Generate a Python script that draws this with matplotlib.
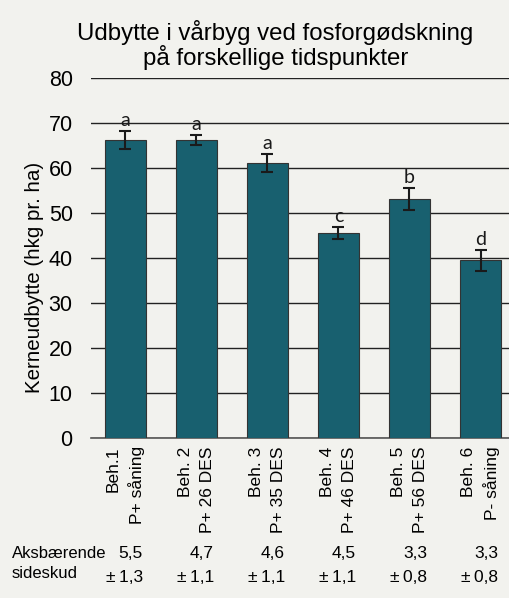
import numpy as np
import matplotlib.pyplot as plt

plt.rcParams['font.family'] = ['Liberation Sans', 'DejaVu Sans']

labels = ['Beh.1\nP+ såning', 'Beh. 2\nP+ 26 DES', 'Beh. 3\nP+ 35 DES',
          'Beh. 4\nP+ 46 DES', 'Beh. 5\nP+ 56 DES', 'Beh. 6\nP- såning']
yield_vals = [66.2, 66.2, 61.0, 45.5, 53.1, 39.5]
yield_err = [2.0, 1.1, 2.0, 1.3, 2.4, 2.3]
letters = ['a', 'a', 'a', 'c', 'b', 'd']
shoots = ['5,5', '4,7', '4,6', '4,5', '3,3', '3,3']
shoots_sd = ['±\u20091,3', '±\u20091,1', '±\u20091,1', '±\u20091,1', '±\u20090,8', '±\u20090,8']

bg = '#f2f2ee'
fig = plt.figure(figsize=(5.1, 5.98), dpi=100, facecolor=bg)
ax = fig.add_axes([0.178, 0.2676, 0.822, 0.602])
ax.set_facecolor(bg)

ind = np.arange(len(labels))
width = 0.57
ax.bar(ind, yield_vals, width, color='#18606f', edgecolor='#333333', linewidth=0.8, zorder=3)
ax.errorbar(ind, yield_vals, yerr=yield_err, fmt='none', ecolor='#1a1a1a',
            elinewidth=1.5, capsize=4, capthick=1.5, zorder=4)
for i in ind:
    ax.text(i, yield_vals[i] + yield_err[i] + 0.5, letters[i], ha='center', va='bottom',
            fontsize=14, color='#1a1a1a', family='Lato')

ax.set_ylim(0, 80)
ax.set_xlim(-0.486, 5.415)
ax.set_yticks(range(0, 81, 10))
ax.yaxis.grid(True, color='#222222', linewidth=1.0, zorder=0)
ax.tick_params(axis='y', length=0, labelsize=15.5, pad=13)
ax.tick_params(axis='x', length=0, labelsize=12.5, pad=6)
ax.set_xticks(ind)
ax.set_xticklabels(labels, rotation=90, va='top', ha='center',
                   multialignment='right', linespacing=1.55)
for s in ['top', 'right', 'left']:
    ax.spines[s].set_visible(False)
ax.spines['bottom'].set_color('#555555')
ax.spines['bottom'].set_linewidth(1.2)

ax.set_ylabel('Kerneudbytte (hkg pr. ha)', fontsize=14.8)
ax.yaxis.set_label_coords(-0.112, 0.446)
fig.text(0.54, 0.924, 'Udbytte i vårbyg ved fosforgødskning\npå forskellige tidspunkter',
         ha='center', va='center', fontsize=17.3, linespacing=1.0)

fig.text(12 / 510, 1 - 554 / 598, 'Aksbærende', ha='left', va='center', fontsize=12)
fig.text(12 / 510, 1 - 573 / 598, 'sideskud', ha='left', va='center', fontsize=12)
for i in ind:
    xd = ax.transData.transform((i + width / 2 - 0.04, 0))[0]
    xf = fig.transFigure.inverted().transform((xd, 0))[0]
    fig.text(xf, 1 - 554 / 598, shoots[i], ha='right', va='center', fontsize=12.5)
    fig.text(xf, 1 - 577 / 598, shoots_sd[i], ha='right', va='center', fontsize=12.5)

fig.savefig('out.png', dpi=100, facecolor=bg)
